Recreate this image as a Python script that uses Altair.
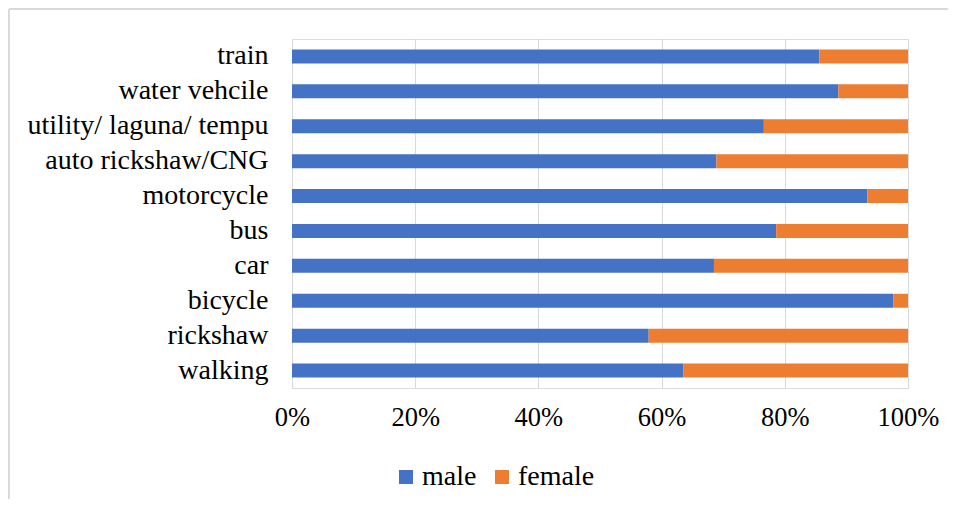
import altair as alt
import pandas as pd

categories = ["train", "water vehcile ", "utility/ laguna/ tempu", "auto rickshaw/CNG",
              "motorcycle", "bus", "car", "bicycle", "rickshaw", "walking"]
male = [85.6, 88.7, 76.6, 68.9, 93.4, 78.6, 68.5, 97.6, 57.9, 63.5]
female = [14.4, 11.3, 23.4, 31.1, 6.6, 21.4, 31.5, 2.4, 42.1, 36.5]
series = ["male", "female"]
colors = ["#4472C4", "#ED7D31"]

rows = []
for c, m, f in zip(categories, male, female):
    rows.append({"mode": c, "gender": "male", "value": m, "ord": 0})
    rows.append({"mode": c, "gender": "female", "value": f, "ord": 1})
df = pd.DataFrame(rows)

FONT = "Liberation Serif"
FS = 26.5
FSY = 28

bars = alt.Chart(df).mark_bar().encode(
    y=alt.Y("mode:N", sort=categories, title=None,
            scale=alt.Scale(paddingInner=0.6, paddingOuter=0.3),
            axis=alt.Axis(domain=False, ticks=False, labelPadding=24, labelFont=FONT,
                          labelFontSize=FSY, labelColor="#000000", labelLimit=400)),
    x=alt.X("value:Q", stack="normalize", title=None,
            scale=alt.Scale(domain=[0, 1], nice=False),
            axis=alt.Axis(format="%", values=[0, 0.2, 0.4, 0.6, 0.8, 1.0], grid=True,
                          gridColor="#d9d9d9", gridWidth=1, domain=False, ticks=False,
                          labelPadding=16, labelFont=FONT, labelFontSize=FS,
                          labelColor="#000000", labelFlush=False)),
    color=alt.Color("gender:N", scale=alt.Scale(domain=series, range=colors),
                    legend=alt.Legend(title=None, orient="none", direction="horizontal",
                                      legendX=100, legendY=424, symbolType="square",
                                      symbolSize=196, symbolStrokeWidth=0,
                                      labelFont=FONT, labelFontSize=FSY,
                                      labelColor="#000000", labelOffset=2,
                                      columnPadding=11)),
    order=alt.Order("ord:Q"),
)

top_border = alt.Chart(df).mark_rule(color="#d9d9d9", strokeWidth=1).encode(
    x=alt.value(-283), x2=alt.value(656), y=alt.value(-30))
left_border = alt.Chart(df).mark_rule(color="#d9d9d9", strokeWidth=1).encode(
    x=alt.value(-283), y=alt.value(-30), y2=alt.value(460))

chart = alt.layer(top_border, left_border, bars).properties(
    width=616, height=349, padding=0
).configure_view(stroke=None).configure(background="#ffffff").configure_legend(
    labelFont=FONT, labelFontSize=FSY, labelColor="#000000"
).configure_axis(labelFont=FONT)

chart.save("out.html", embed_options={"renderer": "svg", "actions": False})
